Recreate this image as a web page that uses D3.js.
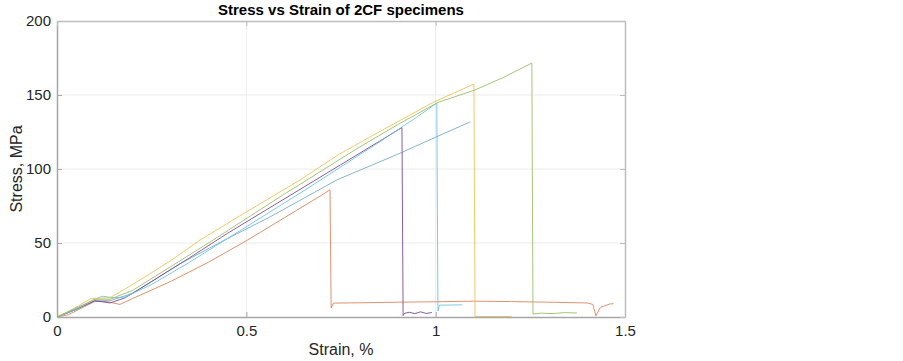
<!DOCTYPE html>
<html>
<head>
<meta charset="utf-8">
<script src="https://cdn.jsdelivr.net/npm/d3@7"></script>
<style>
  body { margin: 0; background: #fff; }
  text { font-family: "Liberation Sans", Arial, sans-serif; }
</style>
</head>
<body>
<script>
// SVG Dimensions
var width = 903;
var height = 361;
var margins = { left: 57, right: 278, top: 21, bottom: 44 };
var plotWidth = width - margins.left - margins.right;
var plotHeight = height - margins.top - margins.bottom;

var xTicks = [0, 0.5, 1, 1.5];
var yTicks = [0, 50, 100, 150, 200];

// [strain %, stress MPa]
var orangeSpec = [[0,0],[0.03,1.5],[0.1,10.5],[0.13,10.5],[0.166,8.5],[0.2,12.5],[0.3,24],[0.4,37],[0.5,51.5],[0.6,67],[0.7,82.5],[0.721,86],
  [0.724,6],[0.73,9.4],[0.8,9.6],[0.9,10],[1.0,10.3],[1.1,10.7],[1.2,10.4],[1.3,10],[1.4,9.5],[1.415,8.5],[1.423,0.8],[1.435,6.5],[1.46,8.8],[1.47,9]];
var tealSpec = [[0,0],[0.05,5.5],[0.1,11],[0.14,11],[0.2,16],[0.325,36],[0.45,53],[0.5625,67.6],[0.739,92.6],[0.9,110],[1.0,121.5],[1.091,131.8]];
var purpleSpec = [[0,0],[0.05,5],[0.1,11],[0.14,9.5],[0.18,13],[0.25,24],[0.35,40],[0.45,56.5],[0.55,72],[0.65,87.5],[0.75,103],[0.85,118.5],[0.911,128],
  [0.914,1],[0.918,2.5],[0.93,3.2],[0.945,2.3],[0.96,3.5],[0.975,2.4],[0.99,3]];
var cyanSpec = [[0,0],[0.05,5],[0.1,12],[0.12,14],[0.15,13],[0.18,13.5],[0.25,22],[0.35,37],[0.45,53],[0.55,69],[0.65,85],[0.75,101.5],[0.85,118],[0.95,135],[1.003,144.6],
  [1.006,4],[1.01,8],[1.07,8.2]];
var yellowSpec = [[0,0],[0.05,6.5],[0.09,12.5],[0.14,13],[0.2,22],[0.3,38],[0.378,52],[0.5,71],[0.642,92.6],[0.742,109.5],[0.85,125],[0.993,145],[1.101,157.4],
  [1.104,0.3],[1.2,0.3]];
var greenSpec = [[0,0],[0.05,6],[0.1,12],[0.14,12],[0.2,18],[0.3,34],[0.4,50],[0.5,66.5],[0.6,83],[0.7,99],[0.8,115],[0.9,130],[1.006,145],[1.104,153.4],[1.18,162],[1.254,171.6],
  [1.257,2],[1.28,2.6],[1.31,2.3],[1.34,3],[1.373,2.7]];

var seriesNames = ["orange", "teal", "purple", "cyan", "yellow", "green"];
var seriesData = [orangeSpec, tealSpec, purpleSpec, cyanSpec, yellowSpec, greenSpec];
var seriesColors = ["#DB7F52", "#6EA8C6", "#77418F", "#62C2E4", "#EDBF4C", "#95BC5E"];

var svg = d3.select("body").append("svg")
    .attr("width", width)
    .attr("height", height);

var x = d3.scaleLinear().domain([0, 1.5]).range([0, plotWidth]);
var y = d3.scaleLinear().domain([0, 200]).range([plotHeight, 0]);

var graph = svg.append("g")
    .attr("transform", "translate(" + margins.left + "," + margins.top + ")");

// grid
graph.selectAll(".vgrid").data(xTicks.slice(1, -1)).enter().append("line")
    .attr("x1", d => x(d)).attr("x2", d => x(d))
    .attr("y1", 0).attr("y2", plotHeight)
    .attr("stroke", "#ebebeb");
graph.selectAll(".hgrid").data(yTicks.slice(1, -1)).enter().append("line")
    .attr("x1", 0).attr("x2", plotWidth)
    .attr("y1", d => y(d)).attr("y2", d => y(d))
    .attr("stroke", "#ebebeb");

// curves
var line = d3.line().x(d => x(d[0])).y(d => y(d[1]));
graph.selectAll(".curve").data(seriesData).enter().append("path")
    .attr("class", "curve")
    .attr("d", d => line(d))
    .attr("fill", "none")
    .attr("stroke", (d, i) => seriesColors[i])
    .attr("stroke-opacity", 0.85)
    .attr("stroke-width", 1);

// axes
var xAxis = d3.axisBottom(x).tickValues(xTicks).tickFormat(d3.format("")).tickSizeInner(-5).tickSizeOuter(0).tickPadding(8);
var yAxis = d3.axisLeft(y).tickValues(yTicks).tickSizeInner(-5).tickSizeOuter(0).tickPadding(6);

var gx = graph.append("g").attr("transform", "translate(0," + plotHeight + ")").call(xAxis);
var gy = graph.append("g").call(yAxis);
[gx, gy].forEach(g => {
    g.select(".domain").attr("stroke", "#a6a6a6").attr("stroke-width", 1.5);
    g.selectAll(".tick line").attr("stroke", "#a6a6a6");
    g.selectAll(".tick text").attr("fill", "#262626").attr("font-size", "15px")
        .style("font-family", "'Liberation Sans', Arial, sans-serif");
});

// top / right box edges
var topAxis = d3.axisTop(x).tickValues(xTicks).tickSizeInner(-5).tickSizeOuter(0).tickFormat("");
var rightAxis = d3.axisRight(y).tickValues(yTicks).tickSizeInner(-5).tickSizeOuter(0).tickFormat("");
var gt = graph.append("g").call(topAxis);
var gr = graph.append("g").attr("transform", "translate(" + plotWidth + ",0)").call(rightAxis);
[gt, gr].forEach(g => {
    g.select(".domain").attr("stroke", "#bdbdbd").attr("stroke-width", 1.5);
    g.selectAll(".tick line").attr("stroke", "#bdbdbd");
});

// labels
svg.append("text")
    .attr("x", margins.left + plotWidth / 2)
    .attr("y", 15)
    .attr("text-anchor", "middle")
    .attr("font-size", "15px")
    .attr("font-weight", "bold")
    .attr("fill", "#000")
    .text("Stress vs Strain of 2CF specimens");

svg.append("text")
    .attr("x", margins.left + plotWidth / 2)
    .attr("y", 355)
    .attr("text-anchor", "middle")
    .attr("font-size", "16px")
    .attr("fill", "#262626")
    .text("Strain, %");

svg.append("text")
    .attr("transform", "translate(22," + (margins.top + plotHeight / 2) + ") rotate(-90)")
    .attr("text-anchor", "middle")
    .attr("font-size", "16px")
    .attr("fill", "#262626")
    .text("Stress, MPa");
</script>
</body>
</html>
